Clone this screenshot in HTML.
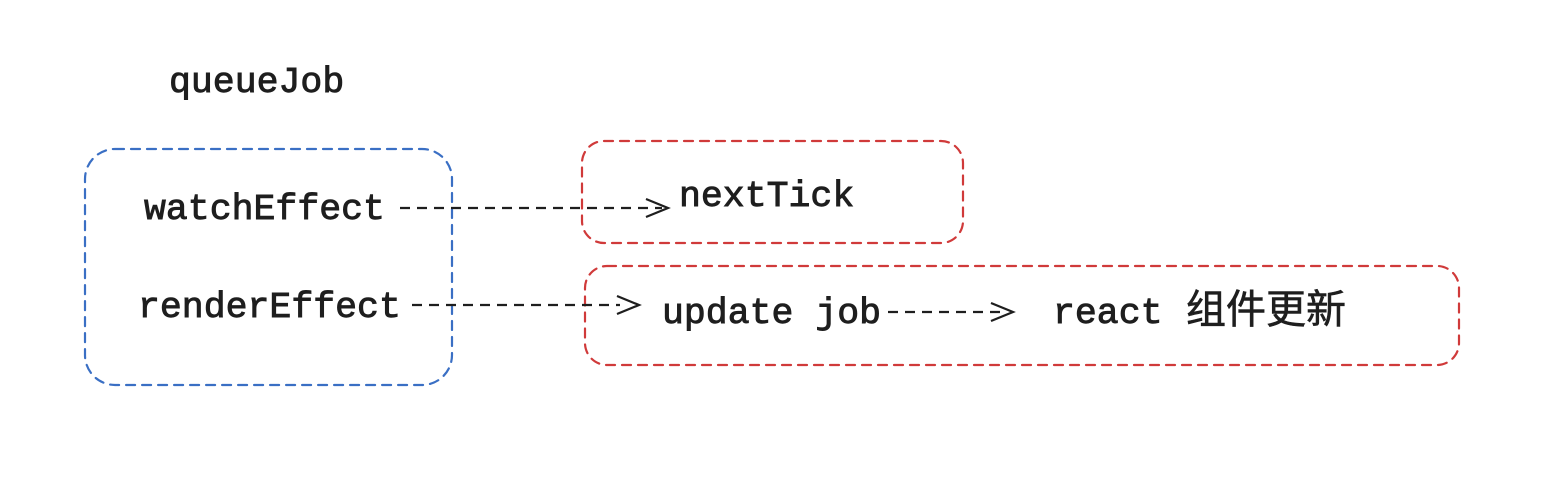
<!DOCTYPE html>
<html><head><meta charset="utf-8"><style>
html,body{margin:0;padding:0;background:#fff;}
svg{display:block}
text{font-family:"Liberation Mono","Noto Sans CJK SC",monospace;font-size:36.5px;fill:#1e1e1e;stroke:#1e1e1e;stroke-width:0.9px;}
</style></head><body>
<svg width="1548" height="489" viewBox="0 0 1548 489">
<g fill="none" stroke-width="2.2" stroke-dasharray="9 7" stroke-linecap="round">
<rect x="85" y="149" width="367" height="236" rx="30" stroke="#3a6fc4"/>
<rect x="582" y="141" width="381" height="102" rx="22" stroke="#d03a3a"/>
<rect x="585" y="266" width="874" height="99" rx="22" stroke="#d03a3a"/>
</g>
<g fill="none" stroke="#1e1e1e" stroke-width="2.2">
<line x1="400" y1="208" x2="662" y2="208" stroke-dasharray="10 7"/>
<polyline points="646,199 668,208 646,217"/>
<line x1="412" y1="305" x2="620" y2="305" stroke-dasharray="10 7"/>
<polyline points="617,296 639,305 617,314"/>
<line x1="888" y1="312" x2="1000" y2="312" stroke-dasharray="10 7"/>
<polyline points="991,303 1013,312 991,321"/>
</g>
<text x="169" y="92">queueJob</text>
<text x="144" y="219">watchEffect</text>
<text x="138" y="317">renderEffect</text>
<text x="679" y="206">nextTick</text>
<text x="662" y="323">update job</text>
<text x="1053" y="323">react <tspan x="1186" style="font-size:40px;stroke-width:0.6px">组件更新</tspan></text>
</svg>
</body></html>
